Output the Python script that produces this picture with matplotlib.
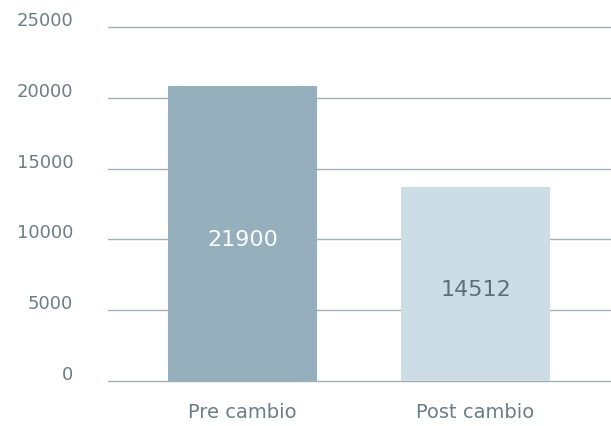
import matplotlib
matplotlib.use("Agg")
import matplotlib.pyplot as plt
from matplotlib.transforms import ScaledTranslation

categories = ["Pre cambio", "Post cambio"]
bar_heights = [20850, 13700]          # heights as drawn against the axis
bar_labels = ["21900", "14512"]       # value labels printed in the bars
bar_colors = ["#95afbd", "#ccdde5"]
label_colors = ["#ffffff", "#5f6f78"]
yticks = [0, 5000, 10000, 15000, 20000, 25000]

W, H = 611, 427
fig = plt.figure(figsize=(W / 100, H / 100), dpi=100)
plt.rcParams['font.family'] = ['DejaVu Sans']

ymin, ymax = -300, 25300
px_per_unit = (381.7 - 28.2) / 25000
y_bot = 381.7 + (0 - ymin) * px_per_unit
y_top = 28.2 - (ymax - 25000) * px_per_unit
x_left, x_right = 108, 611
ax = fig.add_axes([x_left / W, 1 - y_bot / H, (x_right - x_left) / W, (y_bot - y_top) / H])
ax.set_ylim(ymin, ymax)
spacing = 233.0
ax.set_xlim(-134.5 / spacing, 1 + 135.5 / spacing)

for t in yticks:
    ax.axhline(t, color="#a3b0b7", lw=1.0, zorder=1)

x = list(range(len(categories)))
bars = ax.bar(x, bar_heights, width=149 / spacing, color=bar_colors, zorder=2)

for xi, h, lab, c in zip(x, bar_heights, bar_labels, label_colors):
    off = ScaledTranslation(0, -5.6 / 100, fig.dpi_scale_trans)
    ax.text(xi, h / 2, lab, ha="center", va="center", color=c, fontsize=16,
            transform=ax.transData + off, zorder=3)

ax.set_yticks(yticks)
ax.set_yticklabels([str(t) for t in yticks])
ax.tick_params(axis="y", length=0, pad=25, labelsize=13, labelcolor="#6d7d86")
for lbl in ax.get_yticklabels():
    lbl.set_transform(lbl.get_transform() + ScaledTranslation(0, 8.8 / 100, fig.dpi_scale_trans))

ax.set_xticks(x)
ax.set_xticklabels(categories)
ax.tick_params(axis="x", length=0, pad=12, labelsize=14, labelcolor="#6d7d86")

for s in ax.spines.values():
    s.set_visible(False)

fig.savefig("out.png", dpi=100)
